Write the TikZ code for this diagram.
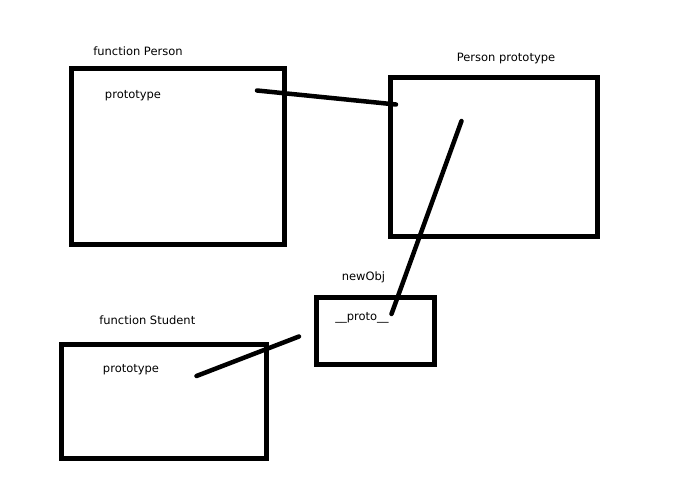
\documentclass[tikz,border=0pt]{standalone}
\usepackage{fontspec}
\setmainfont{DejaVu Sans}
\begin{document}
\begin{tikzpicture}[x=1pt,y=-1pt,
  box/.style={draw=black,line width=5pt,fill=none,inner sep=0pt},
  lbl/.style={font=\fontsize{11.5}{13}\selectfont,inner sep=0pt,anchor=base},
  link/.style={line width=4.5pt,line cap=round}]
\useasboundingbox (0,0) rectangle (688,492);
% boxes
\node[box,minimum width=213pt,minimum height=175pt] (person) at (178.25,156.5) {};
\node[box,minimum width=207pt,minimum height=158.5pt] (pproto) at (493.5,156.75) {};
\node[box,minimum width=205pt,minimum height=113.5pt] (student) at (163.5,401.25) {};
\node[box,minimum width=118pt,minimum height=66.5pt] (newobj) at (375,330.75) {};
% labels
\node[lbl] (tperson) at (138,56) {function Person};
\node[lbl] (tproto1) at (133,99) {prototype};
\node[lbl] (tpproto) at (506,61.5) {Person prototype};
\node[lbl] (tnewobj) at (363.5,280) {newObj};
\node[lbl] (tunder) at (362,320) {\_\_proto\_\_};
\node[lbl] (tstudent) at (147.3,324) {function Student};
\node[lbl] (tproto2) at (131,372) {prototype};
% connector ends
\coordinate (a1) at (257,90.5);
\coordinate (a2) at (396,104.5);
\coordinate (b1) at (461.5,121);
\coordinate (b2) at (391.5,314);
\coordinate (c1) at (299,336.5);
\coordinate (c2) at (196.5,376);
\draw[link] (a1) -- (a2);
\draw[link] (b1) -- (b2);
\draw[link] (c1) -- (c2);
\end{tikzpicture}
\end{document}
